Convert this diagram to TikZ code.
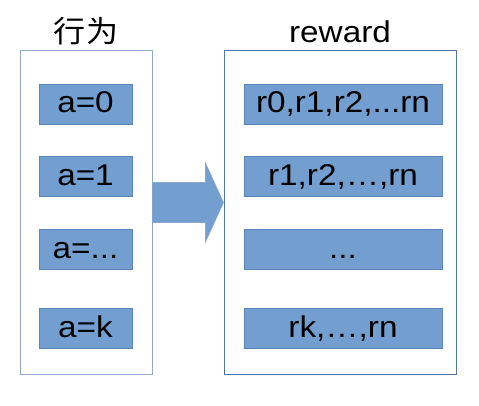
\documentclass[tikz,border=0pt]{standalone}
\usepackage{fontspec}
\setmainfont[FakeStretch=1.11]{Liberation Sans}
\newfontfamily\cjkfont[FakeStretch=1.07]{Noto Sans CJK SC}
\usepackage{xcolor}
\usetikzlibrary{arrows.meta,positioning}

\definecolor{cellblue}{HTML}{729FCF}
\definecolor{celledge}{HTML}{5B84BA}
\definecolor{frameedge}{HTML}{4F74AC}
\definecolor{framelight}{HTML}{8FA8CE}

\begin{document}
\begin{tikzpicture}[
  x=1pt, y=1pt,
  frame/.style={draw=#1, line width=1pt, fill=white, minimum height=323pt, inner sep=0pt},
  cell/.style={draw=celledge, fill=cellblue, line width=0.8pt, minimum height=40pt, inner sep=0pt,
    text height=23pt, text depth=5pt, font=\fontsize{30}{34}\selectfont},
  title/.style={anchor=base, inner sep=0pt, font=\fontsize{30}{34}\selectfont},
  bigarrow/.style={fill=cellblue, draw=framelight, line width=0.6pt, line join=miter}
]
\useasboundingbox (0,0) rectangle (479,405);
% two frames
\node[frame=framelight, minimum width=132pt] (acts) at (86,192.5) {};
\node[frame=frameedge, minimum width=232pt] (rews) at (340,192.5) {};
\node[title] (actstitle) at ([yshift=8pt]acts.north) {\cjkfont 行为};
\node[title] (rewstitle) at ([yshift=8pt]rews.north) {reward};
% actions
\node[cell, minimum width=93pt] (a0) at (85.5,301) {a=0};
\node[cell, minimum width=93pt] (a1) at (85.5,228.5) {a=1};
\node[cell, minimum width=93pt] (ai) at (85.5,156) {a=...};
\node[cell, minimum width=93pt] (ak) at (85.5,77) {a=k};
% rewards
\node[cell, minimum width=198pt] (r0) at (343,301) {r0,r1,r2,...rn};
\node[cell, minimum width=198pt] (r1) at (343,228.5) {r1,r2,…,rn};
\node[cell, minimum width=198pt] (ri) at (343,156) {...};
\node[cell, minimum width=198pt] (rk) at (343,77) {rk,…,rn};
% block arrow between the frames
\coordinate (tail) at ([yshift=10pt]acts.east);
\coordinate (tip) at ([yshift=10pt]rews.west);
\filldraw[bigarrow] ([yshift=20pt]tail) -- ([xshift=-18pt,yshift=20pt]tip)
  -- ([xshift=-18pt,yshift=39.5pt]tip) -- (tip)
  -- ([xshift=-18pt,yshift=-39.5pt]tip) -- ([xshift=-18pt,yshift=-20pt]tip)
  -- ([yshift=-20pt]tail);
\end{tikzpicture}
\end{document}
